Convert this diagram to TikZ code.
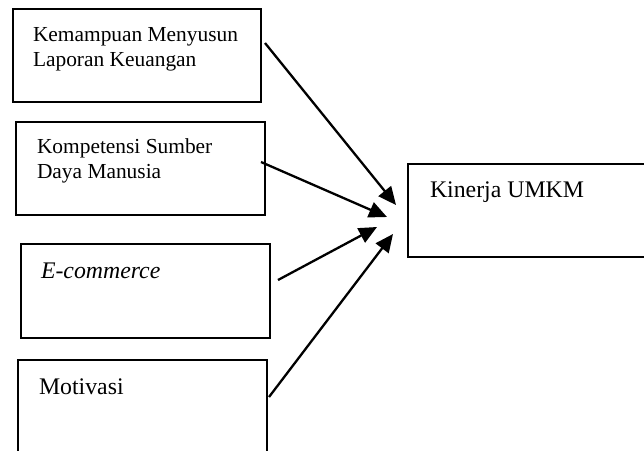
\documentclass[tikz,border=0pt]{standalone}
\usepackage{fontspec}
\setmainfont{Liberation Serif}
\usetikzlibrary{arrows.meta,calc}
\tikzset{
  box/.style={draw=black, line width=2pt, rectangle, inner sep=0pt, outer sep=0pt},
  lbl/.style={inner sep=0pt, outer sep=0pt, align=left, anchor=base west},
  small/.style={font=\fontsize{21.4}{25.5}\selectfont},
  big/.style={font=\fontsize{23.8}{28}\selectfont},
  conn/.style={line width=2.3pt, -{Triangle[length=18pt,width=16pt]}}
}
\begin{document}
\begin{tikzpicture}[x=1pt,y=-1pt]
\useasboundingbox[clip] (0,0) rectangle (644,450);
\fill[white] (0,0) rectangle (644,450);
\node[box, minimum width=248pt, minimum height=93pt] (b1) at (137,55.5) {};
\node[box, minimum width=249pt, minimum height=93pt] (b2) at (140.5,168.5) {};
\node[box, minimum width=249pt, minimum height=94pt] (b3) at (145.5,291) {};
\node[box, minimum width=249pt, minimum height=110pt] (b4) at (142.5,415) {};
\node[box, minimum width=252pt, minimum height=93pt] (k) at (534,210.5) {};
\node[lbl, small] (t1) at (33,66.5) {Kemampuan Menyusun\\Laporan Keuangan};
\node[lbl, small] (t2) at (37,178.5) {Kompetensi Sumber\\Daya Manusia};
\node[lbl, big] (t3) at (41,278) {\itshape E-commerce};
\node[lbl, big] (t4) at (39,394) {Motivasi};
\node[lbl, big] (tk) at (430,197) {Kinerja UMKM};
\coordinate (e1) at (396,205);
\coordinate (e2) at (387,217);
\coordinate (e3) at (377,227);
\coordinate (e4) at (393,234);
\draw[conn] ($(b1.east)+(4,-12.5)$) -- (e1);
\draw[conn] ($(b2.east)+(-4,-6.5)$) -- (e2);
\draw[conn] ($(b3.east)+(8,-11)$) -- (e3);
\draw[conn] ($(b4.east)+(2,-18)$) -- (e4);
\end{tikzpicture}
\end{document}
